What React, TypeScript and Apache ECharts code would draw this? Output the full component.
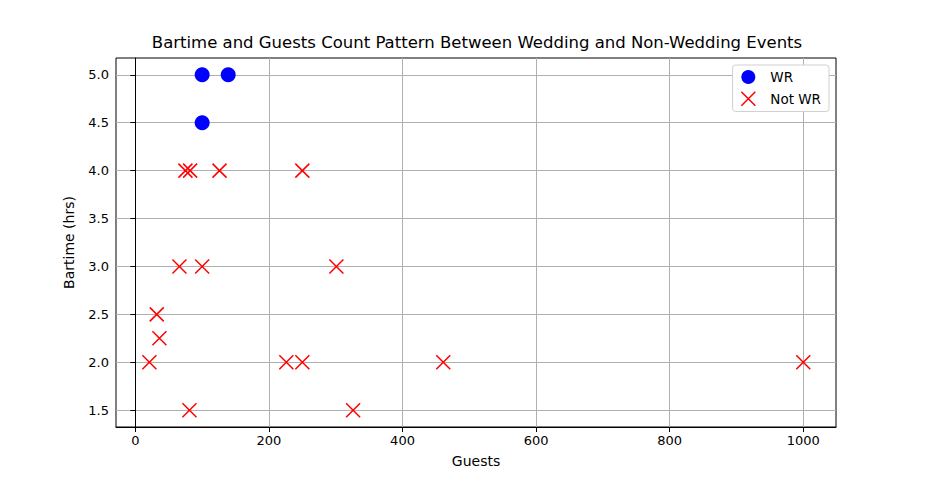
import React, { useEffect, useRef } from "react";
import * as echarts from "echarts";

const wrGuests = [100, 139, 100];
const wrBartime = [5.0, 5.0, 4.5];

const notWrGuests = [75, 82, 126, 250, 66, 100, 301, 32, 36, 21, 226, 250, 461, 1000, 81, 326];
const notWrBartime = [4.0, 4.0, 4.0, 4.0, 3.0, 3.0, 3.0, 2.5, 2.25, 2.0, 2.0, 2.0, 2.0, 2.0, 1.5, 1.5];

const xTicks = [0, 200, 400, 600, 800, 1000];
const yTicks = [1.5, 2.0, 2.5, 3.0, 3.5, 4.0, 4.5, 5.0];

const FONT = "DejaVu Sans";
const X_PATH = "path://M0,0L10,10M10,0L0,10";

export default function App() {
  const ref = useRef<HTMLDivElement>(null);
  useEffect(() => {
    document.body.style.margin = "0";
    const chart = echarts.init(ref.current!, null, { renderer: "svg" });
    const axisCommon = {
      axisLine: { show: true, lineStyle: { color: "#000", width: 1 } },
      axisTick: { show: true, length: 5, lineStyle: { color: "#000", width: 1 } },
      splitLine: { show: true, lineStyle: { color: "#b0b0b0", width: 1 } },
      nameTextStyle: { fontFamily: FONT, fontSize: 14, color: "#000" },
    };
    chart.setOption({
      animation: false,
      backgroundColor: "#fff",
      title: {
        text: "Bartime and Guests Count Pattern Between Wedding and Non-Wedding Events",
        left: 472,
        textAlign: "center",
        top: 29,
        textStyle: { fontFamily: FONT, fontSize: 16.5, fontWeight: "normal", color: "#000" },
      },
      grid: {
        left: 116,
        right: 92,
        top: 58,
        bottom: 53,
        show: true,
        borderColor: "#000",
        borderWidth: 1,
        backgroundColor: "transparent",
      },
      legend: {
        orient: "vertical",
        right: 99,
        top: 65,
        backgroundColor: "#fff",
        borderColor: "#d0d0d0",
        borderWidth: 1,
        borderRadius: 3,
        padding: [5, 8, 5, 8],
        itemGap: 7,
        itemWidth: 18,
        itemHeight: 14,
        textStyle: { fontFamily: FONT, fontSize: 13.5, color: "#000", padding: [0, 0, 0, 8] },
        data: [
          { name: "WR", icon: "circle", itemStyle: { color: "blue" } },
          {
            name: "Not WR",
            icon: X_PATH,
            itemStyle: { color: "red", borderColor: "red", borderWidth: 1.5 },
          },
        ],
      },
      xAxis: {
        type: "value",
        min: -29,
        max: 1049,
        name: "Guests",
        nameLocation: "middle",
        nameGap: 27,
        ...axisCommon,
        axisTick: { ...axisCommon.axisTick, customValues: xTicks },
        axisLabel: {
          customValues: xTicks,
          fontFamily: FONT,
          fontSize: 13,
          color: "#000",
          margin: 7,
          formatter: (v: number) => String(v),
        },
      },
      yAxis: {
        type: "value",
        min: 1.325,
        max: 5.175,
        name: "Bartime (hrs)",
        nameLocation: "middle",
        nameGap: 40,
        ...axisCommon,
        axisTick: { ...axisCommon.axisTick, customValues: yTicks },
        axisLabel: {
          customValues: yTicks,
          fontFamily: FONT,
          fontSize: 13,
          color: "#000",
          margin: 7,
          formatter: (v: number) => v.toFixed(1),
        },
      },
      series: [
        {
          name: "WR",
          type: "scatter",
          symbol: "circle",
          symbolSize: 15,
          itemStyle: { color: "blue", opacity: 1 },
          data: wrGuests.map((g, i) => [g, wrBartime[i]]),
        },
        {
          name: "Not WR",
          type: "scatter",
          symbol: X_PATH,
          symbolSize: 14,
          itemStyle: { color: "red", borderColor: "red", borderWidth: 1.5, opacity: 1 },
          data: notWrGuests.map((g, i) => [g, notWrBartime[i]]),
        },
      ],
    });
    return () => chart.dispose();
  }, []);
  return <div ref={ref} style={{ width: 928, height: 480 }} />;
}
